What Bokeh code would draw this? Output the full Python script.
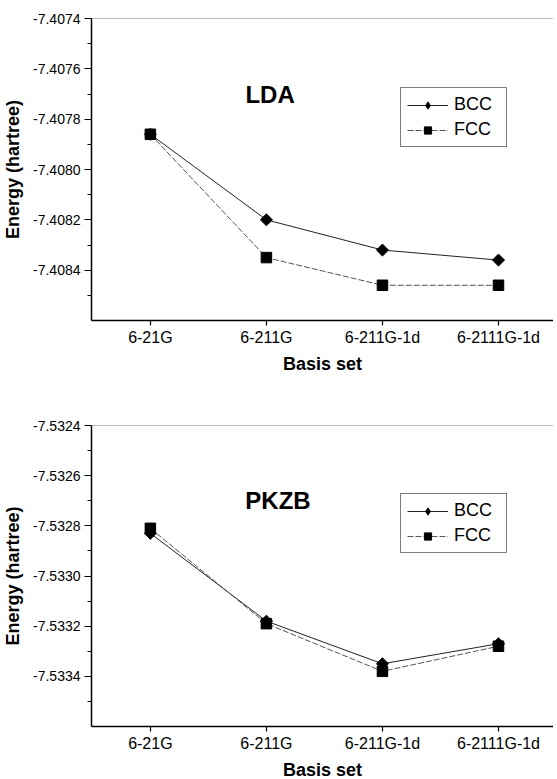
import numpy as np
from bokeh.plotting import figure
from bokeh.models import (Range1d, FixedTicker, SingleIntervalTicker, PrintfTickFormatter,
                          Legend, LegendItem, Label, Span)
from bokeh.layouts import column
from bokeh.embed import file_html
from bokeh.resources import INLINE

# ---- data ----
basis_sets = ["6-21G", "6-211G", "6-211G-1d", "6-2111G-1d"]
lda_bcc = [-7.40786, -7.40820, -7.40832, -7.40836]
lda_fcc = [-7.40786, -7.40835, -7.40846, -7.40846]
pkzb_bcc = [-7.53283, -7.53318, -7.53335, -7.53327]
pkzb_fcc = [-7.53281, -7.53319, -7.53338, -7.53328]
lda_yrange = (-7.4086, -7.4074)
pkzb_yrange = (-7.5336, -7.5324)
y_tick_step = 0.0002
series_names = ["BCC", "FCC"]

FONT = "Liberation Sans"
xs = list(range(1, len(basis_sets) + 1))


def make_panel(title, bcc, fcc, yr, height, top, bottom, title_xy, lbl_so, axl_so):
    p = figure(width=553, height=height,
               x_range=Range1d(0.4927, 4.474), y_range=Range1d(*yr),
               output_backend="svg", toolbar_location=None,
               min_border_left=90, min_border_right=0,
               min_border_top=top, min_border_bottom=bottom)
    p.outline_line_color = None
    p.grid.visible = False
    p.background_fill_color = "white"
    p.border_fill_color = "white"

    # y axis
    ya = p.yaxis[0]
    ya.ticker = SingleIntervalTicker(interval=y_tick_step, num_minor_ticks=2)
    ya.formatter = PrintfTickFormatter(format="%.4f")
    ya.major_tick_out = 7
    ya.major_tick_in = 0
    ya.minor_tick_out = 4
    ya.minor_tick_in = 0
    ya.axis_line_width = 1.5
    ya.major_tick_line_width = 1.2
    ya.major_label_text_font = FONT
    ya.major_label_text_font_size = "14px"
    ya.major_label_text_color = "black"
    ya.major_label_standoff = 4
    ya.axis_label = "Energy (hartree)"
    ya.axis_label_text_font = FONT
    ya.axis_label_text_font_size = "18px"
    ya.axis_label_text_font_style = "bold"
    ya.axis_label_text_color = "black"
    ya.axis_label_standoff = 7

    # x axis
    xa = p.xaxis[0]
    xa.ticker = FixedTicker(ticks=xs, minor_ticks=[])
    xa.major_label_overrides = {x: name for x, name in zip(xs, basis_sets)}
    xa.major_tick_out = 5
    xa.major_tick_in = 0
    xa.minor_tick_out = 0
    xa.axis_line_width = 1.5
    xa.major_tick_line_width = 1.2
    xa.major_label_text_font = FONT
    xa.major_label_text_font_size = "16px"
    xa.major_label_text_color = "black"
    xa.major_label_standoff = lbl_so
    xa.axis_label = "Basis set"
    xa.axis_label_text_font = FONT
    xa.axis_label_text_font_size = "18px"
    xa.axis_label_text_font_style = "bold"
    xa.axis_label_text_color = "black"
    xa.axis_label_standoff = axl_so

    p.add_layout(Span(location=yr[1], dimension="width", line_color="#777", line_width=1))

    bl = p.line(xs, bcc, line_color="#222", line_width=1)
    p.scatter(xs, bcc, marker="square", angle=np.pi / 4, size=8.5,
              fill_color="black", line_color="black")
    fl = p.line(xs, fcc, line_color="#555", line_width=1, line_dash="6 2")
    fs = p.scatter(xs, fcc, marker="square", size=10.5,
                   fill_color="black", line_color="black")
    # legend-only symbol for the BCC diamond (no visible points)
    bproxy = p.scatter([np.nan], [np.nan], marker="diamond", size=14,
                       fill_color="black", line_color="black")

    legend = Legend(items=[LegendItem(label=series_names[0], renderers=[bl, bproxy]),
                           LegendItem(label=series_names[1], renderers=[fl, fs])],
                    location=(309, 173), orientation="vertical",
                    glyph_width=41, glyph_height=18, label_height=18, label_width=46,
                    label_standoff=6, spacing=4, padding=6, margin=0,
                    label_text_font=FONT, label_text_font_size="18px",
                    label_text_color="black",
                    border_line_color="black", border_line_width=1,
                    background_fill_color="white", background_fill_alpha=1)
    p.add_layout(legend)

    p.add_layout(Label(x=title_xy[0], y=title_xy[1], text=title, text_font=FONT,
                       text_font_size="24px", text_font_style="bold",
                       text_align="center", text_baseline="middle", text_color="black"))
    return p


p1 = make_panel("LDA", lda_bcc, lda_fcc, lda_yrange, 413, 18, 93,
                (2.032, -7.40770), 3, 5)
p2 = make_panel("PKZB", pkzb_bcc, pkzb_fcc, pkzb_yrange, 369, 12, 55,
                (2.100, -7.53270), 3, 5)

layout = column(p1, p2, spacing=0)
open("out.html", "w").write(file_html(layout, INLINE))
